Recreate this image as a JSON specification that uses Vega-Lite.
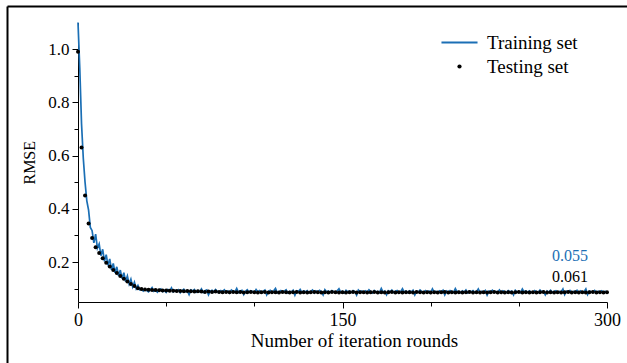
{
"$schema": "https://vega.github.io/schema/vega-lite/v6.json",
"width": 620, "height": 357,
"autosize": {"type": "none"},
"padding": {"left": 7, "top": 6, "right": 0, "bottom": 0},
"background": "white",
"config": {"font": "Liberation Serif", "view": {"stroke": null},
  "axis": {"grid": false, "domainColor": "black", "tickColor": "black", "labelColor": "black", "titleColor": "black", "titleFontWeight": "normal", "labelFont": "Liberation Serif", "titleFont": "Liberation Serif"}},
"datasets": {
"training": [
{"it":0,"rmse":1.1},{"it":1,"rmse":0.93},{"it":2,"rmse":0.72},{"it":3,"rmse":0.59},{"it":4,"rmse":0.5},{"it":5,"rmse":0.43},{"it":6,"rmse":0.395},{"it":7,"rmse":0.33},{"it":8,"rmse":0.318},{"it":9,"rmse":0.272},
{"it":10,"rmse":0.305},{"it":11,"rmse":0.252},{"it":12,"rmse":0.268},{"it":13,"rmse":0.224},{"it":14,"rmse":0.248},{"it":15,"rmse":0.203},{"it":16,"rmse":0.228},{"it":17,"rmse":0.188},{"it":18,"rmse":0.212},{"it":19,"rmse":0.171},
{"it":20,"rmse":0.195},{"it":21,"rmse":0.16},{"it":22,"rmse":0.182},{"it":23,"rmse":0.148},{"it":24,"rmse":0.17},{"it":25,"rmse":0.138},{"it":26,"rmse":0.16},{"it":27,"rmse":0.127},{"it":28,"rmse":0.148},{"it":29,"rmse":0.118},
{"it":30,"rmse":0.136},{"it":31,"rmse":0.107},{"it":32,"rmse":0.124},{"it":33,"rmse":0.1},{"it":34,"rmse":0.112},{"it":35,"rmse":0.096},
{"it":36,"rmse":0.097},{"it":37,"rmse":0.091},{"it":38,"rmse":0.099},{"it":39,"rmse":0.093},{"it":40,"rmse":0.088},{"it":41,"rmse":0.096},{"it":42,"rmse":0.104},{"it":43,"rmse":0.09},{"it":44,"rmse":0.094},{"it":45,"rmse":0.087},
{"it":46,"rmse":0.095},{"it":47,"rmse":0.099},{"it":48,"rmse":0.089},{"it":49,"rmse":0.093},{"it":50,"rmse":0.086},{"it":51,"rmse":0.097},{"it":52,"rmse":0.092},{"it":53,"rmse":0.103},{"it":54,"rmse":0.088},{"it":55,"rmse":0.094},
{"it":56,"rmse":0.09},{"it":57,"rmse":0.096},{"it":58,"rmse":0.085},{"it":59,"rmse":0.093},{"it":60,"rmse":0.098},{"it":61,"rmse":0.089},{"it":62,"rmse":0.092},{"it":63,"rmse":0.078},{"it":64,"rmse":0.095},{"it":65,"rmse":0.091},
{"it":66,"rmse":0.097},{"it":67,"rmse":0.087},{"it":68,"rmse":0.093},{"it":69,"rmse":0.089},{"it":70,"rmse":0.099},{"it":71,"rmse":0.086},{"it":72,"rmse":0.092},{"it":73,"rmse":0.095},{"it":74,"rmse":0.077},{"it":75,"rmse":0.091},
{"it":76,"rmse":0.094},{"it":77,"rmse":0.088},{"it":78,"rmse":0.097},{"it":79,"rmse":0.09},{"it":80,"rmse":0.085},{"it":81,"rmse":0.093},{"it":82,"rmse":0.089},{"it":83,"rmse":0.096},{"it":84,"rmse":0.087},{"it":85,"rmse":0.092},
{"it":86,"rmse":0.084},{"it":87,"rmse":0.095},{"it":88,"rmse":0.09},{"it":89,"rmse":0.088},{"it":90,"rmse":0.101},{"it":91,"rmse":0.086},{"it":92,"rmse":0.091},{"it":93,"rmse":0.094},{"it":94,"rmse":0.078},{"it":95,"rmse":0.09},
{"it":96,"rmse":0.096},{"it":97,"rmse":0.087},{"it":98,"rmse":0.092},{"it":99,"rmse":0.089},{"it":100,"rmse":0.085},{"it":101,"rmse":0.097},{"it":102,"rmse":0.088},{"it":103,"rmse":0.093},{"it":104,"rmse":0.086},{"it":105,"rmse":0.091},
{"it":106,"rmse":0.095},{"it":107,"rmse":0.077},{"it":108,"rmse":0.09},{"it":109,"rmse":0.094},{"it":110,"rmse":0.087},{"it":111,"rmse":0.092},{"it":112,"rmse":0.101},{"it":113,"rmse":0.085},{"it":114,"rmse":0.089},{"it":115,"rmse":0.093},
{"it":116,"rmse":0.086},{"it":117,"rmse":0.091},{"it":118,"rmse":0.096},{"it":119,"rmse":0.084},{"it":120,"rmse":0.09},{"it":121,"rmse":0.088},{"it":122,"rmse":0.094},{"it":123,"rmse":0.076},{"it":124,"rmse":0.092},{"it":125,"rmse":0.089},
{"it":126,"rmse":0.097},{"it":127,"rmse":0.086},{"it":128,"rmse":0.091},{"it":129,"rmse":0.088},{"it":130,"rmse":0.093},{"it":131,"rmse":0.085},{"it":132,"rmse":0.09},{"it":133,"rmse":0.095},{"it":134,"rmse":0.084},{"it":135,"rmse":0.092},
{"it":136,"rmse":0.087},{"it":137,"rmse":0.094},{"it":138,"rmse":0.089},{"it":139,"rmse":0.077},{"it":140,"rmse":0.096},{"it":141,"rmse":0.088},{"it":142,"rmse":0.091},{"it":143,"rmse":0.086},{"it":144,"rmse":0.093},{"it":145,"rmse":0.089},
{"it":146,"rmse":0.085},{"it":147,"rmse":0.092},{"it":148,"rmse":0.1},{"it":149,"rmse":0.087},{"it":150,"rmse":0.09},{"it":151,"rmse":0.084},{"it":152,"rmse":0.094},{"it":153,"rmse":0.088},{"it":154,"rmse":0.091},{"it":155,"rmse":0.086},
{"it":156,"rmse":0.093},{"it":157,"rmse":0.089},{"it":158,"rmse":0.076},{"it":159,"rmse":0.095},{"it":160,"rmse":0.088},{"it":161,"rmse":0.091},{"it":162,"rmse":0.085},{"it":163,"rmse":0.092},{"it":164,"rmse":0.087},{"it":165,"rmse":0.096},
{"it":166,"rmse":0.089},{"it":167,"rmse":0.084},{"it":168,"rmse":0.093},{"it":169,"rmse":0.088},{"it":170,"rmse":0.09},{"it":171,"rmse":0.086},{"it":172,"rmse":0.101},{"it":173,"rmse":0.087},{"it":174,"rmse":0.091},{"it":175,"rmse":0.077},
{"it":176,"rmse":0.092},{"it":177,"rmse":0.088},{"it":178,"rmse":0.095},{"it":179,"rmse":0.086},{"it":180,"rmse":0.09},{"it":181,"rmse":0.093},{"it":182,"rmse":0.084},{"it":183,"rmse":0.089},{"it":184,"rmse":0.1},{"it":185,"rmse":0.087},
{"it":186,"rmse":0.091},{"it":187,"rmse":0.085},{"it":188,"rmse":0.092},{"it":189,"rmse":0.088},{"it":190,"rmse":0.094},{"it":191,"rmse":0.077},{"it":192,"rmse":0.09},{"it":193,"rmse":0.087},{"it":194,"rmse":0.095},{"it":195,"rmse":0.089},
{"it":196,"rmse":0.086},{"it":197,"rmse":0.093},{"it":198,"rmse":0.088},{"it":199,"rmse":0.091},{"it":200,"rmse":0.084},{"it":201,"rmse":0.099},{"it":202,"rmse":0.087},{"it":203,"rmse":0.09},{"it":204,"rmse":0.085},{"it":205,"rmse":0.092},
{"it":206,"rmse":0.088},{"it":207,"rmse":0.094},{"it":208,"rmse":0.077},{"it":209,"rmse":0.091},{"it":210,"rmse":0.087},{"it":211,"rmse":0.093},{"it":212,"rmse":0.089},{"it":213,"rmse":0.086},{"it":214,"rmse":0.1},{"it":215,"rmse":0.088},
{"it":216,"rmse":0.09},{"it":217,"rmse":0.085},{"it":218,"rmse":0.092},{"it":219,"rmse":0.087},{"it":220,"rmse":0.095},{"it":221,"rmse":0.084},{"it":222,"rmse":0.091},{"it":223,"rmse":0.088},{"it":224,"rmse":0.093},{"it":225,"rmse":0.086},
{"it":226,"rmse":0.089},{"it":227,"rmse":0.099},{"it":228,"rmse":0.085},{"it":229,"rmse":0.09},{"it":230,"rmse":0.087},{"it":231,"rmse":0.093},{"it":232,"rmse":0.076},{"it":233,"rmse":0.091},{"it":234,"rmse":0.088},{"it":235,"rmse":0.094},
{"it":236,"rmse":0.086},{"it":237,"rmse":0.09},{"it":238,"rmse":0.087},{"it":239,"rmse":0.095},{"it":240,"rmse":0.084},{"it":241,"rmse":0.092},{"it":242,"rmse":0.089},{"it":243,"rmse":0.086},{"it":244,"rmse":0.093},{"it":245,"rmse":0.088},
{"it":246,"rmse":0.091},{"it":247,"rmse":0.077},{"it":248,"rmse":0.094},{"it":249,"rmse":0.087},{"it":250,"rmse":0.09},{"it":251,"rmse":0.085},{"it":252,"rmse":0.099},{"it":253,"rmse":0.088},{"it":254,"rmse":0.091},{"it":255,"rmse":0.086},
{"it":256,"rmse":0.092},{"it":257,"rmse":0.087},{"it":258,"rmse":0.084},{"it":259,"rmse":0.093},{"it":260,"rmse":0.089},{"it":261,"rmse":0.086},{"it":262,"rmse":0.095},{"it":263,"rmse":0.088},{"it":264,"rmse":0.09},{"it":265,"rmse":0.077},
{"it":266,"rmse":0.091},{"it":267,"rmse":0.087},{"it":268,"rmse":0.094},{"it":269,"rmse":0.086},{"it":270,"rmse":0.089},{"it":271,"rmse":0.092},{"it":272,"rmse":0.085},{"it":273,"rmse":0.09},{"it":274,"rmse":0.088},{"it":275,"rmse":0.099},
{"it":276,"rmse":0.078},{"it":277,"rmse":0.091},{"it":278,"rmse":0.087},{"it":279,"rmse":0.093},{"it":280,"rmse":0.086},{"it":281,"rmse":0.09},{"it":282,"rmse":0.088},{"it":283,"rmse":0.094},{"it":284,"rmse":0.085},{"it":285,"rmse":0.092},
{"it":286,"rmse":0.087},{"it":287,"rmse":0.089},{"it":288,"rmse":0.099},{"it":289,"rmse":0.078},{"it":290,"rmse":0.091},{"it":291,"rmse":0.088},{"it":292,"rmse":0.086},{"it":293,"rmse":0.093},{"it":294,"rmse":0.087},{"it":295,"rmse":0.09},
{"it":296,"rmse":0.085},{"it":297,"rmse":0.092},{"it":298,"rmse":0.088},{"it":299,"rmse":0.09},{"it":300,"rmse":0.087}
],
"testing": [
{"it":0,"rmse":0.99},{"it":2,"rmse":0.63},{"it":4,"rmse":0.45},{"it":6,"rmse":0.345},{"it":8,"rmse":0.29},{"it":10,"rmse":0.256},{"it":12,"rmse":0.234},{"it":14,"rmse":0.214},{"it":16,"rmse":0.197},{"it":18,"rmse":0.183},
{"it":20,"rmse":0.17},{"it":22,"rmse":0.159},{"it":24,"rmse":0.148},{"it":26,"rmse":0.137},{"it":28,"rmse":0.127},{"it":30,"rmse":0.118},{"it":32,"rmse":0.11},{"it":34,"rmse":0.102},{"it":36,"rmse":0.099},{"it":38,"rmse":0.097},
{"it":40,"rmse":0.096},{"it":42,"rmse":0.095},{"it":44,"rmse":0.095},{"it":46,"rmse":0.094},{"it":48,"rmse":0.093},{"it":50,"rmse":0.093},{"it":52,"rmse":0.092},{"it":54,"rmse":0.092},{"it":56,"rmse":0.091},{"it":58,"rmse":0.091},
{"it":60,"rmse":0.09},{"it":62,"rmse":0.091},{"it":64,"rmse":0.09},{"it":66,"rmse":0.089},{"it":68,"rmse":0.09},{"it":70,"rmse":0.089},{"it":72,"rmse":0.088},{"it":74,"rmse":0.089},{"it":76,"rmse":0.088},{"it":78,"rmse":0.089},
{"it":80,"rmse":0.088},{"it":82,"rmse":0.087},{"it":84,"rmse":0.088},{"it":86,"rmse":0.087},{"it":88,"rmse":0.088},{"it":90,"rmse":0.087},{"it":92,"rmse":0.088},{"it":94,"rmse":0.086},{"it":96,"rmse":0.087},{"it":98,"rmse":0.088},
{"it":100,"rmse":0.087},{"it":102,"rmse":0.086},{"it":104,"rmse":0.087},{"it":106,"rmse":0.088},{"it":108,"rmse":0.086},{"it":110,"rmse":0.087},{"it":112,"rmse":0.087},{"it":114,"rmse":0.086},{"it":116,"rmse":0.088},{"it":118,"rmse":0.087},
{"it":120,"rmse":0.086},{"it":122,"rmse":0.087},{"it":124,"rmse":0.088},{"it":126,"rmse":0.086},{"it":128,"rmse":0.087},{"it":130,"rmse":0.086},{"it":132,"rmse":0.087},{"it":134,"rmse":0.088},{"it":136,"rmse":0.087},{"it":138,"rmse":0.086},
{"it":140,"rmse":0.087},{"it":142,"rmse":0.086},{"it":144,"rmse":0.088},{"it":146,"rmse":0.087},{"it":148,"rmse":0.086},{"it":150,"rmse":0.087},{"it":152,"rmse":0.086},{"it":154,"rmse":0.087},{"it":156,"rmse":0.088},{"it":158,"rmse":0.086},
{"it":160,"rmse":0.087},{"it":162,"rmse":0.087},{"it":164,"rmse":0.086},{"it":166,"rmse":0.087},{"it":168,"rmse":0.088},{"it":170,"rmse":0.086},{"it":172,"rmse":0.087},{"it":174,"rmse":0.086},{"it":176,"rmse":0.087},{"it":178,"rmse":0.088},
{"it":180,"rmse":0.086},{"it":182,"rmse":0.087},{"it":184,"rmse":0.086},{"it":186,"rmse":0.087},{"it":188,"rmse":0.087},{"it":190,"rmse":0.086},{"it":192,"rmse":0.088},{"it":194,"rmse":0.087},{"it":196,"rmse":0.086},{"it":198,"rmse":0.087},
{"it":200,"rmse":0.086},{"it":202,"rmse":0.087},{"it":204,"rmse":0.086},{"it":206,"rmse":0.087},{"it":208,"rmse":0.088},{"it":210,"rmse":0.086},{"it":212,"rmse":0.087},{"it":214,"rmse":0.086},{"it":216,"rmse":0.087},{"it":218,"rmse":0.086},
{"it":220,"rmse":0.087},{"it":222,"rmse":0.088},{"it":224,"rmse":0.086},{"it":226,"rmse":0.087},{"it":228,"rmse":0.086},{"it":230,"rmse":0.087},{"it":232,"rmse":0.086},{"it":234,"rmse":0.087},{"it":236,"rmse":0.088},{"it":238,"rmse":0.086},
{"it":240,"rmse":0.087},{"it":242,"rmse":0.086},{"it":244,"rmse":0.087},{"it":246,"rmse":0.086},{"it":248,"rmse":0.087},{"it":250,"rmse":0.088},{"it":252,"rmse":0.086},{"it":254,"rmse":0.087},{"it":256,"rmse":0.086},{"it":258,"rmse":0.087},
{"it":260,"rmse":0.086},{"it":262,"rmse":0.087},{"it":264,"rmse":0.088},{"it":266,"rmse":0.086},{"it":268,"rmse":0.087},{"it":270,"rmse":0.086},{"it":272,"rmse":0.087},{"it":274,"rmse":0.086},{"it":276,"rmse":0.087},{"it":278,"rmse":0.088},
{"it":280,"rmse":0.086},{"it":282,"rmse":0.087},{"it":284,"rmse":0.086},{"it":286,"rmse":0.087},{"it":288,"rmse":0.086},{"it":290,"rmse":0.087},{"it":292,"rmse":0.088},{"it":294,"rmse":0.086},{"it":296,"rmse":0.087},{"it":298,"rmse":0.086},
{"it":300,"rmse":0.087}
],
"notes": [{"it":279,"rmse":0.222,"label":"0.055"},{"it":279,"rmse":0.143,"label":"0.061"}]
},
"layer": [
 {
  "encoding": {
   "x": {"field": "it", "type": "quantitative",
     "scale": {"domain": [0, 300], "range": [71, 600], "nice": false, "zero": false},
     "axis": {"orient": "bottom", "offset": -61, "values": [0, 50, 100, 150, 200, 250, 300],
       "labelExpr": "datum.value % 150 === 0 ? datum.label : ''",
       "tickSize": {"condition": {"test": "datum.value % 150 === 0", "value": 6}, "value": 4},
       "labelFontSize": 18, "labelPadding": 3, "labelOverlap": false, "labelFlush": false,
       "title": "Number of iteration rounds", "titleFontSize": 19, "titlePadding": 2, "titleX": 347}},
   "y": {"field": "rmse", "type": "quantitative",
     "scale": {"domain": [0.05, 1.1], "range": [296, 16.5], "nice": false, "zero": false},
     "axis": {"orient": "left", "offset": -71, "values": [0.1, 0.2, 0.3, 0.4, 0.5, 0.6, 0.7, 0.8, 0.9, 1.0],
       "format": ".1f",
       "labelExpr": "round(datum.value * 10) % 2 === 0 ? datum.label : ''",
       "tickSize": {"condition": {"test": "round(datum.value * 10) % 2 === 0", "value": 6}, "value": 4},
       "labelFontSize": 17, "labelPadding": 3, "labelOverlap": false,
       "title": "RMSE", "titleFontSize": 16, "titlePadding": 10}}
  },
  "layer": [
   {"data": {"name": "training"}, "mark": {"type": "line", "strokeWidth": 1.7},
    "encoding": {"color": {"datum": "Training set",
      "scale": {"domain": ["Training set", "Testing set"], "range": ["#1b6fb5", "#000000"]},
      "legend": {"orient": "none", "legendX": 443, "legendY": 27, "title": null,
        "labelFontSize": 19, "labelFont": "Liberation Serif", "labelColor": "black",
        "symbolSize": 1300, "labelOffset": 18, "rowPadding": 4,
        "encode": {"symbols": {"update": {
          "shape": {"signal": "datum.value === 'Training set' ? 'stroke' : 'circle'"},
          "size": {"signal": "datum.value === 'Training set' ? 1300 : 18"},
          "strokeWidth": {"signal": "datum.value === 'Training set' ? 2 : 0"},
          "stroke": {"signal": "datum.value === 'Training set' ? '#1b6fb5' : 'transparent'"},
          "fill": {"signal": "datum.value === 'Training set' ? 'transparent' : 'black'"},
          "opacity": {"value": 1}}}}}}}},
   {"data": {"name": "testing"}, "mark": {"type": "point", "filled": true, "size": 16, "opacity": 1},
    "encoding": {"color": {"datum": "Testing set"}}},
   {"data": {"name": "notes"}, "transform": [{"filter": "datum.label === '0.055'"}],
    "mark": {"type": "text", "fontSize": 16, "color": "#1b6fb5", "font": "Liberation Serif"},
    "encoding": {"text": {"field": "label"}}},
   {"data": {"name": "notes"}, "transform": [{"filter": "datum.label === '0.061'"}],
    "mark": {"type": "text", "fontSize": 16, "color": "black", "font": "Liberation Serif"},
    "encoding": {"text": {"field": "label"}}}
  ]
 },
 {
  "data": {"name": "training"},
  "mark": {"type": "point", "opacity": 0},
  "encoding": {
   "x": {"field": "it", "type": "quantitative", "scale": {"domain": [0, 300], "range": [0, 620], "nice": false, "zero": false},
     "axis": {"orient": "top", "offset": 0, "labels": false, "ticks": false, "title": null, "domainWidth": 2, "domainColor": "black"}},
   "y": {"field": "rmse", "type": "quantitative", "scale": {"domain": [0, 1.2], "range": [357, 0], "nice": false, "zero": false},
     "axis": {"orient": "left", "offset": 0, "labels": false, "ticks": false, "title": null, "domainWidth": 2, "domainColor": "black"}}
  }
 }
],
"resolve": {"scale": {"x": "independent", "y": "independent"}, "axis": {"x": "independent", "y": "independent"}}
}
